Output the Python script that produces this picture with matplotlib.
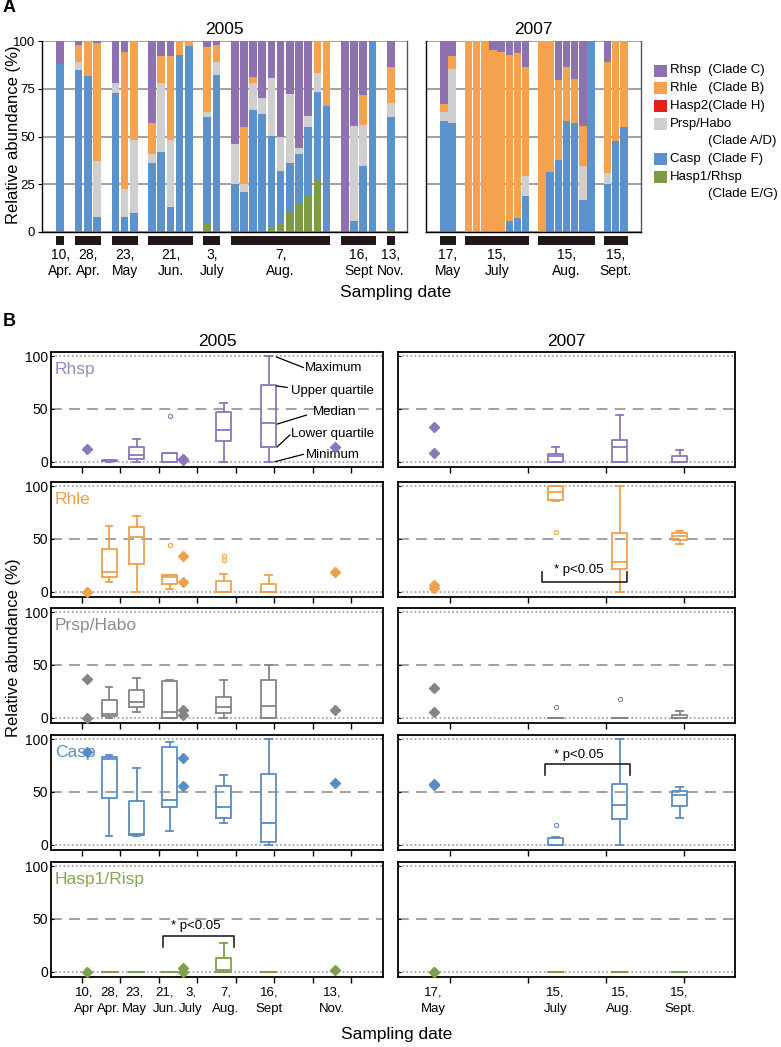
import numpy as np
import matplotlib
matplotlib.use("Agg")
import matplotlib.pyplot as plt
from matplotlib.patches import Rectangle

plt.rcParams['font.family'] = ['Liberation Sans', 'DejaVu Sans']

# clades, stacked from the bottom up
clade_names = ["Hasp1/Rhsp", "Casp", "Prsp/Habo", "Hasp2", "Rhle", "Rhsp"]
clade_colors = ["#7C9C44", "#5B92CC", "#CFCFCF", "#E3201B", "#F4A24E", "#8E72B0"]

# ---- 2005 samples (one value per bar, % of clone library) ----
dates05 = ["10,\nApr.", "28,\nApr.", "23,\nMay", "21,\nJun.", "3,\nJuly", "7,\nAug.", "16,\nSept", "13,\nNov."]
nbars05 = [1, 3, 3, 5, 2, 11, 4, 1]
hasp1_05 = [0, 0, 0, 0, 0, 0, 0, 0, 0, 0, 0, 0, 4, 0,
            0, 0, 0, 0, 2, 4, 11, 14.5, 19.5, 27, 0, 0, 0, 0, 0, 1.5]
casp_05 = [88, 85, 81.5, 8, 73, 8, 10, 36, 42, 13, 92.5, 97.4, 56, 82,
           25, 21, 64, 62, 48.5, 28, 25, 26.5, 35.5, 46.5, 66, 0, 6, 34.5, 100, 58.5]
prsp_05 = [0, 4, 0, 29, 5, 14.5, 38, 5, 36, 35, 0, 0, 3, 7,
           21, 4, 14, 8, 30, 18, 36, 3, 5.5, 10, 0, 0, 49.5, 21.5, 0, 7.5]
hasp2_05 = [0] * 30
rhle_05 = [0, 9, 18.5, 62, 0, 71.5, 52, 16, 14, 44, 7.5, 2.6, 34, 9,
           0, 30, 3, 0, 0, 0, 0, 0, 0, 16.5, 34, 0, 0, 15.5, 0, 19]
rhsp_05 = [12, 2, 0, 1, 22, 6, 0, 43, 8, 8, 0, 0, 3, 2,
           54, 45, 19, 30, 19.5, 50, 28, 56, 39.5, 0, 0, 100, 44.5, 28.5, 0, 13.5]
prsp_extra_10apr = [36.5]   # second 10 Apr sample only shown in panel B

# ---- 2007 samples ----
dates07 = ["17,\nMay", "15,\nJuly", "15,\nAug.", "15,\nSept."]
nbars07 = [2, 8, 7, 3]
hasp1_07 = [0] * 20
casp_07 = [58, 57, 0, 0, 0, 0, 0, 5.5, 7.5, 19, 0, 31.5, 37.5, 58, 57, 17, 100, 25, 47.5, 55]
prsp_07 = [5, 28.5, 0, 0, 0, 0, 0, 0, 0, 10.5, 0, 0, 0, 0, 0, 17.5, 0, 6, 0, 0]
hasp2_07 = [0] * 20
rhle_07 = [4, 6.5, 100, 100, 100, 95.5, 94, 87, 86, 57, 100, 68.5, 42, 28.5, 23, 21, 0, 58, 52.5, 45]
rhsp_07 = [33, 8, 0, 0, 0, 4.5, 6, 7.5, 6.5, 13.5, 0, 0, 20.5, 13.5, 20, 44.5, 0, 11, 0, 0]

# legend, top to bottom
legend_entries = [("Rhsp  (Clade C)", ""), ("Rhle   (Clade B)", ""), ("Hasp2(Clade H)", ""),
                  ("Prsp/Habo", "(Clade A/D)"), ("Casp  (Clade F)", ""), ("Hasp1/Rhsp", "(Clade E/G)")]

# panel B rows: label, line colour, label colour, data 2005, data 2007
box_rows = [
    ("Rhsp", "#8A78B8", "#9A88C6", rhsp_05, rhsp_07),
    ("Rhle", "#F0A04B", "#F0A04B", rhle_05, rhle_07),
    ("Prsp/Habo", "#858585", "#8C8C8C", prsp_05, prsp_07),
    ("Casp", "#5A8CC4", "#5A8CC4", casp_05, casp_07),
    ("Hasp1/Risp", "#7F9F4A", "#86A552", hasp1_05, hasp1_07),
]
boxpos05 = [0.145, 0.71, 1.43, 2.29, 2.62, 3.69, 4.86, 6.58]
boxpos07 = [-0.21, 1.357, 2.18, 2.95]
labpos05 = [0.07, 0.71, 1.36, 2.16, 2.84, 3.75, 4.87, 6.5]
labels05_b = ["10,\nApr", "28,\nApr.", "23,\nMay", "21,\nJun.", "3,\nJuly", "7,\nAug.", "16,\nSept", "13,\nNov."]

W, H = 781, 1047
fig = plt.figure(figsize=(W / 100, H / 100), dpi=100)


def fax(left, top, w, h):
    return fig.add_axes([left / W, 1 - (top + h) / H, w / W, h / H])


def slot_positions(counts):
    pos, s = [], 0
    for c in counts:
        pos.append(np.arange(s, s + c))
        s += c + 1
    return pos


def stacked(ax, counts, series, dates, width, xlim):
    groups = slot_positions(counts)
    x = np.concatenate(groups)
    bottom = np.zeros(len(x))
    for vals, col in zip(series, clade_colors):
        vals = np.asarray(vals, float)
        ax.bar(x, vals, width, bottom=bottom, color=col, linewidth=0)
        bottom += vals
    ax.set_xlim(*xlim)
    ax.set_ylim(0, 100)
    ax.set_yticks([0, 25, 50, 75, 100])
    ax.yaxis.grid(True, color="#9a9a9a", lw=1.3)
    ax.set_axisbelow(True)
    ax.set_xticks([])
    ax.spines["top"].set_visible(False)
    for s in ["left", "right", "bottom"]:
        ax.spines[s].set_linewidth(1.0)
    ax.spines["right"].set_color("#555555")
    tr = ax.get_xaxis_transform()
    for g, lab in zip(groups, dates):
        x0, x1 = g[0] - width / 2, g[-1] + width / 2
        ax.add_patch(Rectangle((x0, -0.068), x1 - x0, 0.047, transform=tr,
                               clip_on=False, color="#231815", lw=0))
        ax.text((x0 + x1) / 2, -0.085, lab, transform=tr, ha="center", va="top",
                fontsize=10, linespacing=1.2)


# ---------------- panel A ----------------
axA05 = fax(42, 41, 365, 191)
axA07 = fax(426, 41, 215, 191)
stacked(axA05, nbars05, [hasp1_05, casp_05, prsp_05, hasp2_05, rhle_05, rhsp_05],
        dates05, 0.83, (-1.99, 37.76))
stacked(axA07, nbars07, [hasp1_07, casp_07, prsp_07, hasp2_07, rhle_07, rhsp_07],
        dates07, 0.92, (-2.18, 24.1))
axA05.tick_params(axis="y", labelsize=9.5, length=3, pad=2)
axA07.tick_params(axis="y", labelleft=False, length=0)
axA05.set_title("2005", fontsize=12.5, pad=5)
axA07.set_title("2007", fontsize=12.5, pad=5)
fig.text(14 / W, 1 - 135 / H, "Relative abundance (%)", rotation=90, ha="center", va="center", fontsize=12)
fig.text(396 / W, 1 - 292 / H, "Sampling date", ha="center", va="center", fontsize=12.5)
fig.text(3 / W, 1 - 8 / H, "A", fontsize=13, fontweight="bold", va="center")
fig.text(3 / W, 1 - 321 / H, "B", fontsize=13, fontweight="bold", va="center")

# legend (drawn by hand so the two-line entries keep the box on the first line)
y = 70.5
for (first, second), col in zip(legend_entries, clade_colors[::-1]):
    fig.patches.append(Rectangle((654 / W, 1 - (y + 6) / H), 13 / W, 12 / H,
                                 transform=fig.transFigure, color=col, lw=0))
    fig.text(670 / W, 1 - y / H, first, fontsize=9.5, va="center")
    y += 17.7
    if second:
        fig.text(708 / W, 1 - y / H, second, fontsize=9.5, va="center")
        y += 17.7


# ---------------- panel B ----------------
def fivenum(v):
    # Tukey hinges, as in R's boxplot
    v = np.sort(np.asarray(v, float))
    n = len(v)
    n4 = np.floor((n + 3) / 2) / 2
    d = np.array([1, n4, (n + 1) / 2, n + 1 - n4, n]) - 1
    return 0.5 * (v[np.floor(d).astype(int)] + v[np.ceil(d).astype(int)])


def box_stats(v):
    v = np.asarray(v, float)
    lo, q1, med, q3, hi = fivenum(v)
    iqr = q3 - q1
    ok = (v >= q1 - 1.5 * iqr) & (v <= q3 + 1.5 * iqr)
    return dict(med=med, q1=q1, q3=q3, whislo=v[ok].min(), whishi=v[ok].max(), fliers=v[~ok])


def box_panel(ax, values, counts, positions, width, color, extra=None):
    vals = np.asarray(values, float)
    edges = np.cumsum([0] + counts)
    stats, pos = [], []
    for i, p in enumerate(positions):
        g = list(vals[edges[i]:edges[i + 1]])
        if extra and i in extra:
            g += extra[i]
        if len(g) >= 3:
            stats.append(box_stats(g))
            pos.append(p)
        else:
            ax.plot([p] * len(g), g, "D", ms=5, color=color, mec=color, zorder=4)
    lp = dict(color=color, lw=1.3)
    ax.bxp(stats, positions=pos, widths=width, capwidths=width * 0.45,
           boxprops=lp, whiskerprops=lp, capprops=lp, medianprops=lp,
           flierprops=dict(marker="o", ms=3, mfc="none", mec=color, mew=0.8),
           manage_ticks=False)


tops = [352, 482, 608, 735, 862]
for r, (name, col, lab_col, d05, d07) in enumerate(box_rows):
    ax5 = fax(51, tops[r], 332, 115)
    ax7 = fax(398, tops[r], 337, 115)
    extra = {0: prsp_extra_10apr} if name == "Prsp/Habo" else None
    box_panel(ax5, d05, nbars05, boxpos05, 0.39, col, extra)
    box_panel(ax7, d07, nbars07, boxpos07, 0.19, col)
    for ax, xl in [(ax5, (-0.8, 7.83)), (ax7, (-0.667, 3.66))]:
        ax.set_xlim(*xl)
        ax.set_ylim(-5, 104)
        ax.axhline(0, color="#9a9a9a", lw=1.2, ls=(0, (1, 1.5)), zorder=0)
        ax.axhline(100, color="#9a9a9a", lw=1.2, ls=(0, (1, 1.5)), zorder=0)
        ax.axhline(50, color="#9a9a9a", lw=1.3, ls=(0, (6, 4)), zorder=0)
        ax.set_xticks(np.arange(0, int(xl[1]) + 1))
        ax.tick_params(axis="x", length=4, width=1, labelbottom=False)
        ax.set_yticks([0, 50, 100])
        ax.tick_params(axis="y", length=2, direction="in", labelsize=10, pad=2)
        for s in ax.spines.values():
            s.set_linewidth(1.3)
    ax7.tick_params(axis="y", labelleft=False)
    ax5.text(0.012, 0.85, name, transform=ax5.transAxes, color=lab_col, fontsize=12.5, va="center")
    if r == 0:
        ax5.set_title("2005", fontsize=12.5, pad=4)
        ax7.set_title("2007", fontsize=12.5, pad=4)
        notes = [("Maximum", (5.06, 99.3), (5.76, 89.3), (5.8, 88.6)),
                 ("Upper quartile", (5.06, 71.9), (5.34, 70.4), (5.45, 67.5)),
                 ("Median", (5.08, 35.7), (5.84, 44.2), (6.0, 47)),
                 ("Lower quartile", (5.08, 14.2), (5.41, 25.3), (5.45, 26.2)),
                 ("Minimum", (5.02, 0), (5.76, 7), (5.83, 6.3))]
        for txt, p0, p1, pt in notes:
            ax5.plot([p0[0], p1[0]], [p0[1], p1[1]], color="black", lw=0.9)
            ax5.text(pt[0], pt[1], txt, fontsize=9.5, va="center")
    if name == "Rhle":
        ax7.plot([1.177, 1.177, 2.276, 2.276], [19, 8.9, 8.9, 19], color="#222222", lw=1.2)
        ax7.text(1.66, 20.5, "* p<0.05", ha="center", va="center", fontsize=9.5)
    if name == "Casp":
        ax7.plot([1.215, 1.215, 2.31, 2.31], [66.4, 76.9, 76.9, 66.4], color="#222222", lw=1.2)
        ax7.text(1.65, 85.4, "* p<0.05", ha="center", va="center", fontsize=9.5)
    if name == "Hasp1/Risp":
        ax5.plot([2.10, 2.10, 3.96, 3.96], [23.3, 33.5, 33.5, 23.3], color="#222222", lw=1.2)
        ax5.text(2.97, 43.6, "* p<0.05", ha="center", va="center", fontsize=9.5)
        tr5, tr7 = ax5.get_xaxis_transform(), ax7.get_xaxis_transform()
        for p, lab in zip(labpos05, labels05_b):
            ax5.text(p, -0.08, lab, transform=tr5, ha="center", va="top", fontsize=9.5, linespacing=1.5)
        for p, lab in zip(boxpos07, dates07):
            ax7.text(p, -0.08, lab, transform=tr7, ha="center", va="top", fontsize=9.5, linespacing=1.5)

fig.text(14 / W, 1 - 648 / H, "Relative abundance (%)", rotation=90, ha="center", va="center", fontsize=12)
fig.text(397 / W, 1 - 1034 / H, "Sampling date", ha="center", va="center", fontsize=12.5)

fig.savefig("out.png", dpi=100)
